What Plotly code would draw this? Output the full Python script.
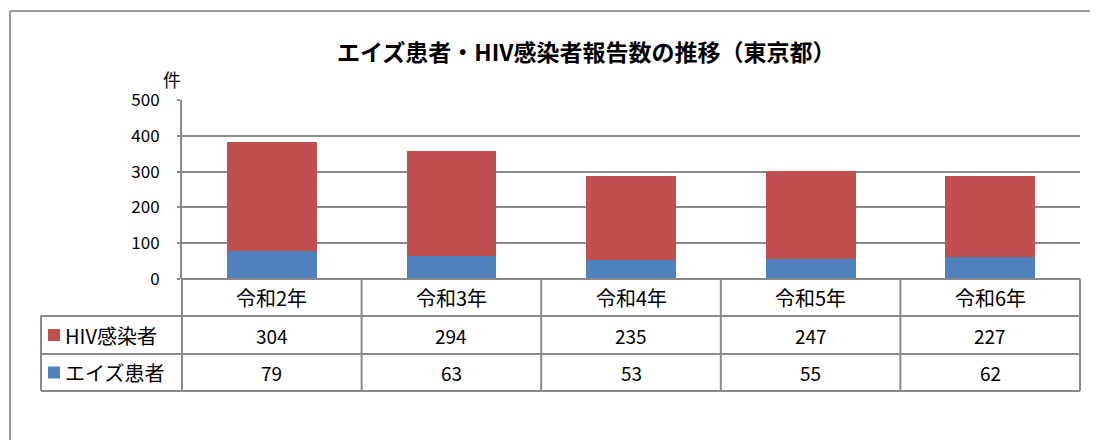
import plotly.graph_objects as go

categories = ["令和2年", "令和3年", "令和4年", "令和5年", "令和6年"]
hiv = [304, 294, 235, 247, 227]
aids = [79, 63, 53, 55, 62]
series_names = ["HIV感染者", "エイズ患者"]
colors = {"HIV感染者": "#C0504D", "エイズ患者": "#4F81BD"}
y_ticks = [0, 100, 200, 300, 400, 500]

FONT = "Noto Sans CJK JP"
OFF = 8  # page body margin
W, H = 1098 - OFF, 440 - OFF
PLOT_L, PLOT_R, PLOT_T, PLOT_B = 182, 1080, 100, 279  # in window pixels
L = PLOT_L - OFF
T = PLOT_T - OFF
R = W - (PLOT_R - OFF)
B = H - (PLOT_B - OFF)
PW = W - L - R
PH = H - T - B
GRID = "#8a8a8a"


def px_x(px):
    return (px - PLOT_L) / PW


def px_y(py):
    return (PLOT_B - py) / PH


fig = go.Figure()
fig.add_trace(go.Bar(x=categories, y=aids, name="エイズ患者",
                     marker=dict(color=colors["エイズ患者"], line=dict(width=0))))
fig.add_trace(go.Bar(x=categories, y=hiv, name="HIV感染者",
                     marker=dict(color=colors["HIV感染者"], line=dict(width=0))))

n = len(categories)
shapes = []
line = dict(color=GRID, width=2)
row_lines = [279, 316, 354, 391]
legend_left = 41
# horizontal table lines
shapes.append(dict(type="line", xref="paper", yref="paper", x0=0, x1=1,
                   y0=px_y(row_lines[0]), y1=px_y(row_lines[0]), line=line))
for py in row_lines[1:]:
    shapes.append(dict(type="line", xref="paper", yref="paper",
                       x0=px_x(legend_left), x1=1, y0=px_y(py), y1=px_y(py), line=line))
# vertical lines at category boundaries
for i in range(n + 1):
    xv = i / n
    shapes.append(dict(type="line", xref="paper", yref="paper", x0=xv, x1=xv,
                       y0=px_y(row_lines[-1]), y1=px_y(row_lines[0]), line=line))
# legend column left border
shapes.append(dict(type="line", xref="paper", yref="paper",
                   x0=px_x(legend_left), x1=px_x(legend_left),
                   y0=px_y(row_lines[-1]), y1=px_y(row_lines[1]), line=line))
# outer frame (left and top)
frame = dict(color="#999999", width=2)
shapes.append(dict(type="line", xref="paper", yref="paper",
                   x0=px_x(10), x1=px_x(10), y0=px_y(445), y1=px_y(11), line=frame))
shapes.append(dict(type="line", xref="paper", yref="paper",
                   x0=px_x(10), x1=px_x(1100), y0=px_y(11), y1=px_y(11), line=frame))

# legend keys
row_centers = {"HIV感染者": 335, "エイズ患者": 372.5}
for name in series_names:
    cy = row_centers[name]
    shapes.append(dict(type="rect", xref="paper", yref="paper",
                       x0=px_x(48), x1=px_x(60), y0=px_y(cy + 6), y1=px_y(cy - 6),
                       fillcolor=colors[name], line=dict(width=0)))

annotations = []
for c in categories:
    annotations.append(dict(x=c, xref="x", y=px_y(297.5), yref="paper", text=c,
                            showarrow=False, font=dict(family=FONT, size=20, color="black"),
                            xanchor="center", yanchor="middle"))
for name, vals in (("HIV感染者", hiv), ("エイズ患者", aids)):
    for c, v in zip(categories, vals):
        annotations.append(dict(x=c, xref="x", y=px_y(row_centers[name]), yref="paper",
                                text=str(v), showarrow=False,
                                font=dict(family=FONT, size=19, color="black"),
                                xanchor="center", yanchor="middle"))
    annotations.append(dict(x=px_x(63), xref="paper", y=px_y(row_centers[name]), yref="paper",
                            text=name, showarrow=False,
                            font=dict(family=FONT, size=20, color="black"),
                            xanchor="left", yanchor="middle"))
annotations.append(dict(x=px_x(172), xref="paper", y=px_y(79), yref="paper", text="件",
                        showarrow=False, font=dict(family=FONT, size=18, color="black"),
                        xanchor="center", yanchor="middle"))
annotations.append(dict(x=px_x(586), xref="paper", y=px_y(51), yref="paper",
                        text="<b>エイズ患者・HIV感染者報告数の推移（東京都）</b>",
                        showarrow=False, font=dict(family=FONT, size=23, color="black"),
                        xanchor="center", yanchor="middle"))

fig.update_layout(
    width=W, height=H,
    margin=dict(l=L, r=R, t=T, b=B, pad=0),
    barmode="stack", bargap=0.5,
    showlegend=False,
    plot_bgcolor="white", paper_bgcolor="white",
    shapes=shapes, annotations=annotations,
    xaxis=dict(type="category", range=[-0.5, n - 0.5], showticklabels=False,
               showgrid=False, showline=False, zeroline=False, ticks=""),
    yaxis=dict(range=[0, 500], tickvals=y_ticks, showgrid=True, gridcolor=GRID, gridwidth=2,
               showline=True, linecolor=GRID, linewidth=2, zeroline=False,
               ticks="outside", ticklen=3, tickcolor=GRID, tickwidth=2,
               ticklabelstandoff=14,
               tickfont=dict(family=FONT, size=17, color="black")),
)

fig.write_html("out.html")
